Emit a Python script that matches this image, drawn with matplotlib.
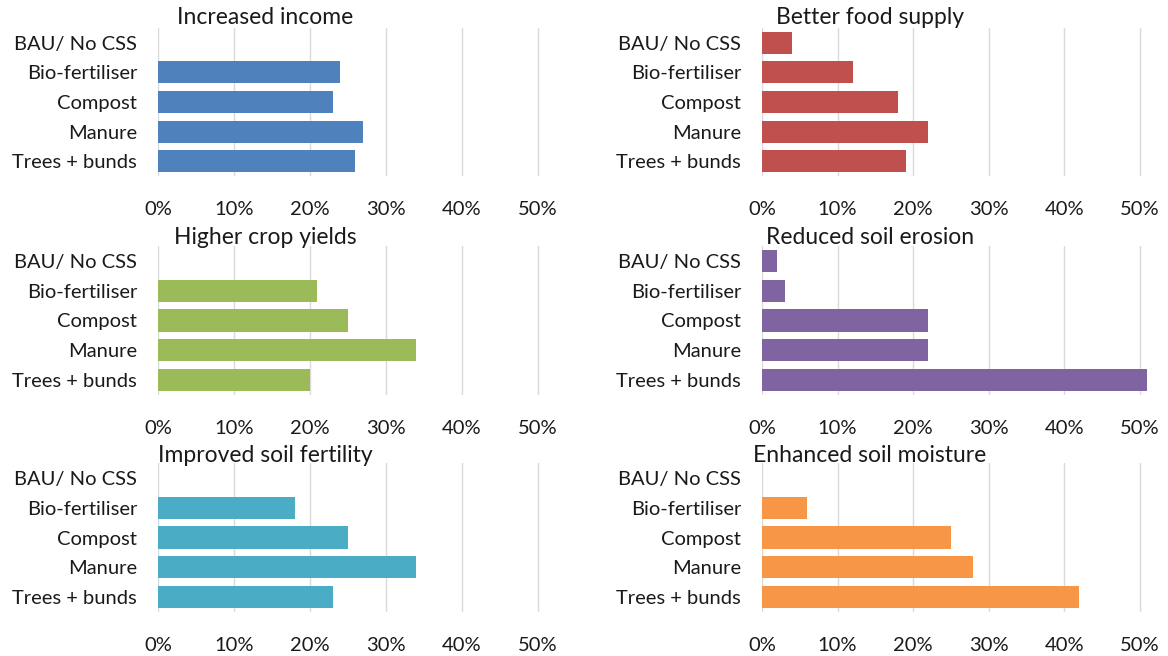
import matplotlib
matplotlib.use("Agg")
import matplotlib.pyplot as plt
from matplotlib.ticker import PercentFormatter

# categories (top to bottom) and share of respondents per benefit
categories = ['BAU/ No CSS', 'Bio-fertiliser', 'Compost', 'Manure', 'Trees + bunds']

increased_income = [0, 24, 23, 27, 26]
better_food_supply = [4, 12, 18, 22, 19]
higher_crop_yields = [0, 21, 25, 34, 20]
reduced_soil_erosion = [2, 3, 22, 22, 51]
improved_soil_fertility = [0, 18, 25, 34, 23]
enhanced_soil_moisture = [0, 6, 25, 28, 42]

x_ticks = [0, 10, 20, 30, 40, 50]

panels = [
    ('Increased income', increased_income, '#4F81BD'),
    ('Better food supply', better_food_supply, '#C0504D'),
    ('Higher crop yields', higher_crop_yields, '#9BBB59'),
    ('Reduced soil erosion', reduced_soil_erosion, '#8064A2'),
    ('Improved soil fertility', improved_soil_fertility, '#4BACC6'),
    ('Enhanced soil moisture', enhanced_soil_moisture, '#F79646'),
]

W, H = 1168, 656
plt.rcParams['font.family'] = ['Lato', 'DejaVu Sans']
fig = plt.figure(figsize=(W / 100, H / 100), dpi=100)

# pixel layout of each plot area: (left, right, title x) per column, (top, bottom, title y) per row
cols = [(158, 549, 265), (762, 1151, 870)]
rows = [(28, 176, 18), (246, 395, 238), (463, 612, 456)]

for i, (title, vals, color) in enumerate(panels):
    r, c = divmod(i, 2)
    x0, x1, tx = cols[c]
    y0, y1, ty = rows[r]
    ax = fig.add_axes([x0 / W, 1 - y1 / H, (x1 - x0) / W, (y1 - y0) / H])
    ax.barh(range(len(categories)), vals, height=0.74, color=color, zorder=3)
    ax.set_yticks(range(len(categories)))
    ax.set_yticklabels(categories, fontsize=14.5, color='#1a1a1a')
    ax.set_ylim(len(categories) - 0.5, -0.5)
    ax.set_xlim(0, 51.5)
    ax.set_xticks(x_ticks)
    ax.xaxis.set_major_formatter(PercentFormatter(decimals=0))
    ax.tick_params(axis='x', labelsize=14.5, colors='#1a1a1a', length=0, pad=18)
    ax.tick_params(axis='y', length=0, pad=15)
    ax.grid(axis='x', color='#D9D9D9', linewidth=1, zorder=0)
    for s in ax.spines.values():
        s.set_visible(False)
    fig.text(tx / W, 1 - ty / H, title, fontsize=16.5, color='#1a1a1a',
             ha='center', va='center')

fig.savefig('out.png', dpi=100, facecolor='white')
